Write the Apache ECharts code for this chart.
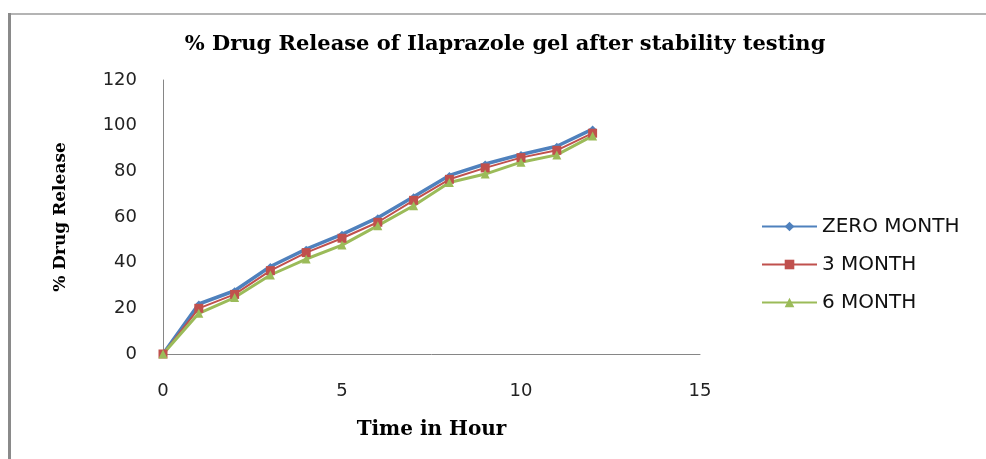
<!DOCTYPE html>
<html>
<head>
<meta charset="utf-8">
<script src="https://cdn.jsdelivr.net/npm/echarts@6/dist/echarts.min.js"></script>
<style>html,body{margin:0;padding:0;background:#fff}#c{width:986px;height:459px}</style>
</head>
<body>
<div id="c"></div>
<script>
const hours = [0, 1, 2, 3, 4, 5, 6, 7, 8, 9, 10, 11, 12];
const zeroMonth = [0, 21.9, 27.7, 38.3, 45.9, 52.4, 59.7, 68.9, 78.2, 83.2, 87.4, 91.0, 98.5];
const threeMonth = [0, 20.0, 26.1, 36.5, 44.4, 50.7, 57.7, 67.3, 76.5, 81.5, 86.0, 89.2, 96.7];
const sixMonth = [0, 17.8, 24.7, 34.6, 41.6, 47.7, 56.2, 64.9, 75.1, 78.8, 84.0, 87.2, 95.5];
const seriesNames = ['ZERO MONTH', '3 MONTH', '6 MONTH'];
const titleText = '% Drug Release of Ilaprazole gel after stability testing';
const xName = 'Time in Hour';
const yName = '% Drug Release';

const pair = (ys) => hours.map((h, i) => [h, ys[i]]);

const chart = echarts.init(document.getElementById('c'), null, {renderer: 'canvas'});
chart.setOption({
  animation: false,
  backgroundColor: '#ffffff',
  title: {
    text: titleText,
    left: 500, top: 29, textAlign: 'center',
    textStyle: {fontFamily: 'DejaVu Serif', fontWeight: 'bold', fontSize: 21, color: '#000'}
  },
  graphic: [
    {type: 'rect', shape: {x: 8, y: 13, width: 978, height: 2}, style: {fill: '#b4b4b4'}, silent: true},
    {type: 'rect', shape: {x: 8, y: 13, width: 3, height: 446}, style: {fill: '#8a8a8a'}, silent: true}
  ],
  legend: {
    orient: 'vertical',
    left: 756, top: 211,
    itemWidth: 55, itemHeight: 12, itemGap: 17,
    textStyle: {fontFamily: 'DejaVu Sans', fontSize: 20, color: '#111', lineHeight: 21},
    data: seriesNames
  },
  grid: {left: 163, right: 286, top: 80, bottom: 105},
  xAxis: {
    type: 'value', min: 0, max: 15, interval: 5,
    name: xName, nameLocation: 'middle', nameGap: 66,
    nameTextStyle: {fontFamily: 'DejaVu Serif', fontWeight: 'bold', fontSize: 20, color: '#000'},
    axisLine: {lineStyle: {color: '#868686', width: 1}},
    axisTick: {show: false},
    splitLine: {show: false},
    axisLabel: {margin: 28, fontFamily: 'DejaVu Sans', fontSize: 18, color: '#222'}
  },
  yAxis: {
    type: 'value', min: 0, max: 120, interval: 20,
    name: yName, nameLocation: 'middle', nameGap: 94, nameRotate: 90,
    nameTextStyle: {fontFamily: 'DejaVu Serif', fontWeight: 'bold', fontSize: 17, color: '#000'},
    axisLine: {show: true, lineStyle: {color: '#868686', width: 1}},
    axisTick: {show: false},
    splitLine: {show: false},
    axisLabel: {margin: 26, fontFamily: 'DejaVu Sans', fontSize: 18, color: '#222'}
  },
  series: [
    {
      name: seriesNames[0], type: 'line', data: pair(zeroMonth),
      symbol: 'diamond', symbolSize: 7,
      lineStyle: {color: '#4F81BD', width: 3.5},
      itemStyle: {color: '#4F81BD'}
    },
    {
      name: seriesNames[1], type: 'line', data: pair(threeMonth),
      symbol: 'rect', symbolSize: 9,
      lineStyle: {color: '#C0504D', width: 2},
      itemStyle: {color: '#C0504D'}
    },
    {
      name: seriesNames[2], type: 'line', data: pair(sixMonth),
      symbol: 'triangle', symbolSize: 9,
      lineStyle: {color: '#9BBB59', width: 3},
      itemStyle: {color: '#9BBB59'}
    }
  ]
});
</script>
</body>
</html>
